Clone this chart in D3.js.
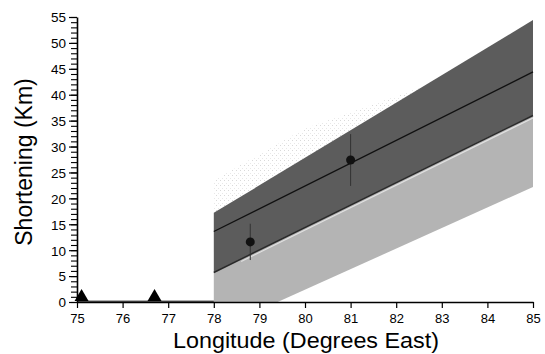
<!DOCTYPE html>
<html><head><meta charset="utf-8">
<script src="https://cdn.jsdelivr.net/npm/d3@7"></script>
<style>body{margin:0;background:#fff}svg{display:block}text{font-family:"Liberation Sans",Arial,sans-serif;fill:#000}</style>
</head><body><svg id="c" width="545" height="354"></svg>
<script>
// ---- data ----
const xTicks = [75,76,77,78,79,80,81,82,83,84,85];
const yTicksMajor = [0,5,10,15,20,25,30,35,40,45,50,55];
const bandLon = [78, 85];
const upperBandTop = [17.2, 54.4];
const upperBandBottom = [5.7, 36.0];
const centerLine = [13.6, 44.4];
const lowerBandBottomLon = [78, 79.4, 85];
const lowerBandBottomVal = [0, 0, 22.2];
const speckleLon = [78, 78, 80, 82.6];
const speckleVal = [17.2, 23.5, 33.5, 41.6];
const pointLon = [78.8, 81.0];
const pointVal = [11.6, 27.4];
const pointErr = [3.5, 5.0];
const triLon = [75.1, 76.7];
const triVal = [0, 0];

const svg = d3.select('#c');
const x = d3.scaleLinear().domain([75,85]).range([77,533]);
const y = d3.scaleLinear().domain([0,55]).range([302,17]);

const defs = svg.append('defs');
const sp = defs.append('pattern').attr('id','spk').attr('width',4).attr('height',5).attr('patternUnits','userSpaceOnUse');
sp.append('rect').attr('width',1).attr('height',1).attr('fill','#aaa');
sp.append('rect').attr('x',2).attr('y',3).attr('width',1).attr('height',1).attr('fill','#ccc');

// speckle area above upper band
svg.append('path')
  .datum(speckleLon.map((d,i)=>[d,speckleVal[i]]))
  .attr('d', d3.line().x(d=>x(d[0])).y(d=>y(d[1])))
  .attr('fill','url(#spk)').attr('opacity',0.45);

// lower (light) band
const lowerPoly = [[bandLon[0],upperBandBottom[0]],[bandLon[1],upperBandBottom[1]]]
  .concat(lowerBandBottomLon.map((d,i)=>[d,lowerBandBottomVal[i]]).reverse());
svg.append('path').datum(lowerPoly)
  .attr('d', d3.line().x(d=>x(d[0])).y(d=>y(d[1])).curve(d3.curveLinearClosed))
  .attr('fill','#b4b4b4');

// upper (dark) band
const upperPoly = [[bandLon[0],upperBandTop[0]],[bandLon[1],upperBandTop[1]],[bandLon[1],upperBandBottom[1]],[bandLon[0],upperBandBottom[0]]];
svg.append('path').datum(upperPoly)
  .attr('d', d3.line().x(d=>x(d[0])).y(d=>y(d[1])).curve(d3.curveLinearClosed))
  .attr('fill','#5c5c5c');

// boundary lines
svg.append('line')
  .attr('x1',x(bandLon[0])).attr('y1',y(upperBandBottom[0]))
  .attr('x2',x(bandLon[1])).attr('y2',y(upperBandBottom[1]))
  .attr('stroke','#2a2a2a').attr('stroke-width',1.5);
svg.append('line')
  .attr('x1',x(bandLon[0]+0.6)).attr('y1',y(upperBandBottom[0]+(upperBandBottom[1]-upperBandBottom[0])*0.6/7)+2.5)
  .attr('x2',x(bandLon[1])).attr('y2',y(upperBandBottom[1])+2.5)
  .attr('stroke','#e0e0e0').attr('stroke-width',1.2);
svg.append('line')
  .attr('x1',x(bandLon[0])).attr('y1',y(centerLine[0]))
  .attr('x2',x(bandLon[1])).attr('y2',y(centerLine[1]))
  .attr('stroke','#111').attr('stroke-width',1.3);

// points with error bars
svg.selectAll('.eb').data(pointLon).enter().append('line')
  .attr('x1',d=>x(d)).attr('x2',d=>x(d))
  .attr('y1',(d,i)=>y(pointVal[i]-pointErr[i])).attr('y2',(d,i)=>y(pointVal[i]+pointErr[i]))
  .attr('stroke','#333').attr('stroke-width',1);
svg.selectAll('.pt').data(pointLon).enter().append('circle')
  .attr('cx',d=>x(d)).attr('cy',(d,i)=>y(pointVal[i])).attr('r',4.5).attr('fill','#111');

// zero data line
svg.append('line').attr('x1',x(75)).attr('x2',x(78)).attr('y1',y(0)-0.8).attr('y2',y(0)-0.8)
  .attr('stroke','#000').attr('stroke-width',1);

// triangles
svg.selectAll('.tri').data(triLon).enter().append('path')
  .attr('d',(d,i)=>{const cx=x(d), by=y(triVal[i]); return `M${cx-7},${by-1}L${cx},${by-13}L${cx+7},${by-1}Z`;})
  .attr('fill','#000');

// axes
const xAxis = svg.append('g').attr('transform','translate(0,302)')
  .call(d3.axisBottom(x).tickValues(xTicks).tickFormat(d3.format('d')).tickSize(6).tickSizeOuter(0));
xAxis.select('.domain').attr('stroke-width',1.3);
xAxis.selectAll('.tick line').attr('stroke-width',1.2);
xAxis.selectAll('text').attr('font-size',13).attr('dy','0.72em').attr('y',12)
  .style('font-family','"Liberation Sans",Arial,sans-serif');

const minor = d3.range(0,56,1);
const yAxisMinor = svg.append('g').attr('transform','translate(77,0)')
  .call(d3.axisLeft(y).tickValues(minor).tickFormat('').tickSize(6).tickSizeOuter(0));
yAxisMinor.selectAll('.tick line').attr('stroke-width',1.1);
yAxisMinor.select('.domain').attr('stroke-width',1.6);
const yAxis = svg.append('g').attr('transform','translate(77,0)')
  .call(d3.axisLeft(y).tickValues(yTicksMajor).tickFormat(d3.format('d')).tickSize(8).tickPadding(3).tickSizeOuter(0));
yAxis.select('.domain').remove();
yAxis.selectAll('.tick line').attr('stroke-width',1.2);
yAxis.selectAll('text').attr('font-size',13.5).attr('dy','0.36em')
  .style('font-family','"Liberation Sans",Arial,sans-serif');

// titles
svg.append('text').attr('x',306).attr('y',348).attr('text-anchor','middle')
  .attr('font-size',22).attr('textLength',266).attr('lengthAdjust','spacingAndGlyphs')
  .text('Longitude (Degrees East)');
svg.append('text').attr('transform','translate(32,162) rotate(-90)').attr('text-anchor','middle')
  .attr('font-size',23).text('Shortening (Km)');
</script></body></html>
